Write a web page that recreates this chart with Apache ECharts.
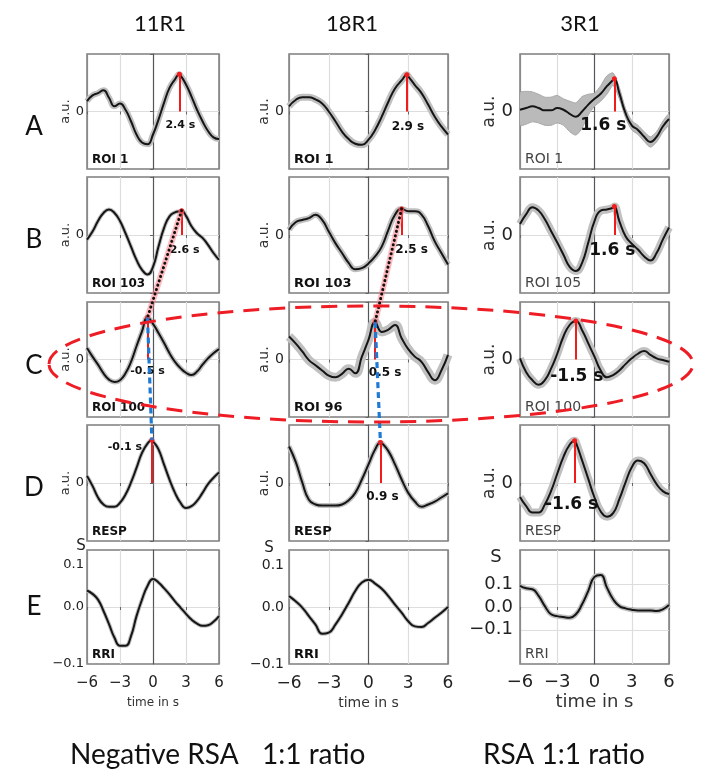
<!DOCTYPE html>
<html><head><meta charset="utf-8">
<script src="https://cdn.jsdelivr.net/npm/echarts@6/dist/echarts.min.js"></script>
<style>html,body{margin:0;padding:0;background:#fff}#c{width:704px;height:773px}</style>
</head><body><div id="c"></div>
<script>
// ---------------- data ----------------
const timeS = [-6,-5.5,-5,-4.5,-4,-3.5,-3,-2.5,-2,-1.5,-1,-0.5,0,0.5,1,1.5,2,2.5,3,3.5,4,4.5,5,5.5,6];
const xTicks = [-6,-3,0,3,6];
const colTitles = ['11R1','18R1','3R1'];
const rowLetters = ['A','B','C','D','E'];
const footers = ['Negative RSA','1:1 ratio','RSA 1:1 ratio'];

// 11R1
const r11_labels = ['ROI 1','ROI 103','ROI 100','RESP','RRI'];
const r11_roi1   = [0.18,0.28,0.32,0.37,0.24,0.09,0.14,0.03,-0.17,-0.40,-0.54,-0.57,-0.40,-0.14,0.15,0.41,0.56,0.63,0.47,0.26,0.03,-0.17,-0.34,-0.45,-0.48];
const r11_roi103 = [-0.08,0.06,0.24,0.38,0.44,0.38,0.24,0.03,-0.20,-0.43,-0.60,-0.68,-0.55,-0.20,0.12,0.32,0.39,0.41,0.33,0.15,0.03,-0.05,-0.17,-0.31,-0.43];
const r11_roi100 = [0.20,0.05,-0.09,-0.24,-0.35,-0.39,-0.36,-0.24,-0.04,0.23,0.49,0.73,0.62,0.46,0.29,0.11,-0.04,-0.15,-0.23,-0.27,-0.21,-0.09,0.02,0.11,0.18];
const r11_resp   = [0.12,-0.05,-0.25,-0.37,-0.41,-0.41,-0.34,-0.20,0.01,0.26,0.52,0.68,0.72,0.58,0.32,0.06,-0.17,-0.34,-0.43,-0.40,-0.31,-0.17,-0.02,0.09,0.18];
const r11_rri    = [0.029,0.023,0.013,-0.007,-0.030,-0.054,-0.068,-0.068,-0.051,-0.016,0.013,0.037,0.049,0.043,0.033,0.022,0.010,-0.001,-0.012,-0.022,-0.029,-0.033,-0.032,-0.026,-0.016];
const r11_peakT  = [2.4, 2.6, -0.5, -0.1, null];
const r11_peakV  = [0.65, 0.42, 0.73, 0.74, null];
const r11_peakL  = ['2.4 s','2.6 s','-0.5 s','-0.1 s', null];

// 18R1
const r18_labels = ['ROI 1','ROI 103','ROI 96','RESP','RRI'];
const r18_roi1   = [0.09,0.20,0.25,0.25,0.21,0.14,0.0,-0.17,-0.35,-0.48,-0.56,-0.58,-0.49,-0.32,-0.09,0.17,0.40,0.54,0.61,0.46,0.32,0.12,-0.09,-0.26,-0.40];
const r18_roi103 = [0.09,0.22,0.26,0.29,0.35,0.26,0.06,-0.14,-0.31,-0.48,-0.59,-0.57,-0.49,-0.37,-0.20,0.09,0.35,0.45,0.41,0.41,0.35,0.15,-0.11,-0.31,-0.51];
const r18_roi96  = [0.40,0.28,0.14,-0.01,-0.10,-0.19,-0.28,-0.31,-0.25,-0.16,-0.24,0.05,0.34,0.65,0.48,0.52,0.60,0.37,0.18,0.05,-0.04,-0.22,-0.36,-0.19,0.08];
const r18_resp   = [0.63,0.37,0.01,-0.29,-0.37,-0.39,-0.39,-0.39,-0.37,-0.30,-0.17,0.06,0.32,0.58,0.69,0.55,0.32,0.06,-0.17,-0.32,-0.41,-0.37,-0.32,-0.25,-0.18];
const r18_rri    = [0.019,0.010,-0.001,-0.016,-0.031,-0.047,-0.045,-0.031,-0.013,0.007,0.028,0.043,0.048,0.041,0.032,0.019,0.004,-0.010,-0.025,-0.034,-0.035,-0.028,-0.019,-0.010,0.0];
const r18_peakT  = [2.9, 2.5, 0.5, 0.9, null];
const r18_peakV  = [0.64, 0.45, 0.65, 0.70, null];
const r18_peakL  = ['2.9 s','2.5 s','0.5 s','0.9 s', null];

// 3R1
const r3_labels  = ['ROI 1','ROI 105','ROI 100','RESP','RRI'];
const r3_roi1    = [0.03,0.06,0.09,0.06,0.02,0.02,0.06,0.03,-0.04,-0.09,0.0,0.12,0.22,0.31,0.44,0.55,0.32,-0.03,-0.24,-0.32,-0.44,-0.53,-0.44,-0.26,-0.13];
const r3_roi1_hi = [0.33,0.35,0.34,0.30,0.25,0.25,0.28,0.22,0.18,0.15,0.26,0.30,0.32,0.45,0.62,0.67,0.42,0.05,-0.16,-0.24,-0.35,-0.44,-0.35,-0.17,-0.04];
const r3_roi1_lo = [-0.24,-0.22,-0.18,-0.20,-0.24,-0.24,-0.20,-0.24,-0.35,-0.41,-0.29,-0.06,0.09,0.18,0.30,0.45,0.22,-0.11,-0.32,-0.40,-0.52,-0.62,-0.53,-0.36,-0.22];
const r3_roi105  = [0.19,0.36,0.48,0.42,0.27,0.07,-0.13,-0.34,-0.55,-0.62,-0.48,-0.13,0.24,0.42,0.44,0.47,0.24,-0.02,-0.15,-0.25,-0.37,-0.44,-0.31,-0.08,0.13];
const r3_roi100  = [0.02,-0.22,-0.36,-0.44,-0.36,-0.16,0.10,0.40,0.60,0.67,0.51,0.28,0.05,-0.19,-0.31,-0.27,-0.19,-0.08,0.02,0.10,0.15,0.08,0.02,-0.01,-0.04];
const r3_resp    = [-0.24,-0.40,-0.51,-0.51,-0.37,-0.14,0.16,0.45,0.66,0.70,0.39,0.07,-0.25,-0.49,-0.58,-0.52,-0.28,0.01,0.27,0.39,0.34,0.16,-0.02,-0.14,-0.19];
const r3_rri     = [0.093,0.082,0.078,0.049,0.004,-0.032,-0.040,-0.044,-0.047,-0.032,0.012,0.071,0.132,0.14,0.085,0.034,0.004,-0.006,-0.012,-0.015,-0.015,-0.015,-0.018,-0.010,0.009];
const r3_peakT   = [1.6, 1.6, -1.5, -1.6, null];
const r3_peakV   = [0.57, 0.49, 0.67, 0.73, null];
const r3_peakL   = ['1.6 s','1.6 s','-1.5 s','-1.6 s', null];

// ---------------- layout / style ----------------
const rowLayout = [{top:54,height:115},{top:177,height:116},{top:302,height:115},{top:425,height:116},{top:550,height:114}];
const colLayout = [
  {left:87, width:132, tickFs:13, xFs:15, nameFs:13, timeFs:12, roiFs:12, roiW:'bold', roiFill:'#111', peakFs:11, nameGap:11, yMargin:3, xMargin:12, timeGap:33, sX:81, sY:546, sFs:15, titleX:160, footX:70},
  {left:289, width:159, tickFs:14, xFs:17, nameFs:14, timeFs:14, roiFs:13, roiW:'bold', roiFill:'#111', peakFs:12, nameGap:15, yMargin:5, xMargin:11, timeGap:32, sX:269, sY:548, sFs:15, titleX:352, footX:262},
  {left:520, width:149, tickFs:18, xFs:18, nameFs:17, timeFs:18, roiFs:14, roiW:'normal', roiFill:'#444', peakFs:17, nameGap:22, yMargin:7, xMargin:9, timeGap:29, sX:496, sY:557, sFs:18, titleX:580, footX:483}
];
const bandW = [[6,4,5,4,4],[7,6,9,5,4],[0,8,8,8,5]];
const peakOff = [
  [[1,14],[3,15],[0,12],[-27,-36]],
  [[1,15],[10,15],[10,13],[2,14]],
  [[-11,14],[-2,16],[1,17],[-3,22]]
];
const FONT = 'DejaVu Sans';
const CAL = 'Lato';

const colData = [
  {vals:[r11_roi1,r11_roi103,r11_roi100,r11_resp,r11_rri], labels:r11_labels, pt:r11_peakT, pv:r11_peakV, pl:r11_peakL},
  {vals:[r18_roi1,r18_roi103,r18_roi96,r18_resp,r18_rri], labels:r18_labels, pt:r18_peakT, pv:r18_peakV, pl:r18_peakL},
  {vals:[r3_roi1,r3_roi105,r3_roi100,r3_resp,r3_rri], labels:r3_labels, pt:r3_peakT, pv:r3_peakV, pl:r3_peakL}
];

function buildData(vals, pt, pv) {
  const arr = timeS.map((t,i)=>[t, vals[i]]);
  if (pt != null) {
    const k = timeS.indexOf(pt);
    if (k >= 0) arr[k] = [pt, pv]; else arr.push([pt, pv]);
    arr.sort((a,b)=>a[0]-b[0]);
  }
  return arr;
}
const minus = s => s.replace('-', '\u2212');

const grids = [], xAxes = [], yAxes = [], series = [], graphics = [];
for (let c = 0; c < 3; c++) {
  const L = colLayout[c], D = colData[c];
  for (let r = 0; r < 5; r++) {
    const g = c*5 + r, R = rowLayout[r];
    const isRRI = (r === 4);
    grids.push({left:L.left, top:R.top, width:L.width, height:R.height, show:true, borderColor:'#7d7d7d', borderWidth:1.5, backgroundColor:'transparent'});
    xAxes.push({
      type:'value', gridIndex:g, min:-6, max:6, interval:3,
      axisLine:{show:false},
      axisTick:{show:true, length:3, lineStyle:{color:'#666'}},
      axisLabel:{show:isRRI, margin:L.xMargin, fontSize:L.xFs, fontFamily:FONT, color:'#222', formatter:v=>minus(String(v))},
      splitLine:{show:true, lineStyle:{color:['#8a8a8a','#dddddd','#505050','#dddddd','#8a8a8a'], width:1.2}},
      name: isRRI ? 'time in s' : '', nameLocation:'middle', nameGap:L.timeGap,
      nameTextStyle:{fontSize:L.timeFs, fontFamily:FONT, color:'#333'}
    });
    let yA;
    if (!isRRI) {
      yA = {type:'value', gridIndex:g, min:-1, max:1, interval:1,
        axisLabel:{margin:L.yMargin, fontSize:L.tickFs, fontFamily:FONT, color:'#222', formatter:v=>v===0?'0':''},
        axisTick:{show:true, length:3, lineStyle:{color:'#666'}},
        splitLine:{show:true, lineStyle:{color:['transparent','#dddddd','transparent'], width:1.2}},
        name:'a.u.', nameLocation:'middle', nameRotate:90, nameGap:L.nameGap,
        nameTextStyle:{fontSize:L.nameFs, fontFamily:FONT, color:'#333'}};
    } else if (c < 2) {
      yA = {type:'value', gridIndex:g, min:-0.1, max:0.1, interval:0.1,
        axisLabel:{margin:L.yMargin, fontSize:L.tickFs, fontFamily:FONT, color:'#222',
          formatter:v=> v > 0.05 ? '{lo|0.1}' : minus(v.toFixed(1)),
          rich:{lo:{fontSize:L.tickFs, fontFamily:FONT, color:'#222', padding:[30,0,0,0]}}},
        axisTick:{show:false},
        splitLine:{show:true, lineStyle:{color:['transparent','#dddddd','transparent'], width:1.2}}};
    } else {
      const sc = ['transparent','transparent','transparent','#dddddd','transparent','#dddddd','transparent','#dddddd','transparent','transparent','transparent'];
      yA = {type:'value', gridIndex:g, min:-0.25, max:0.25, interval:0.05,
        axisLabel:{margin:L.yMargin, fontSize:L.tickFs, fontFamily:FONT, color:'#222', formatter:v=>{
          const q = Math.round(v*100);
          return (q===10||q===0||q===-10) ? minus((q/100).toFixed(1)) : '';
        }},
        axisTick:{show:false},
        splitLine:{show:true, lineStyle:{color:sc, width:1.2}}};
    }
    yAxes.push(yA);

    const pt = D.pt[r], pv = D.pv[r];
    const data = buildData(D.vals[r], pt, pv);
    // band
    if (c === 2 && r === 0) {
      series.push({type:'custom', xAxisIndex:g, yAxisIndex:g, silent:true, z:1, clip:true, data:[[0,0]],
        renderItem:(params, api)=>{
          const up = timeS.map((t,i)=>api.coord([t, r3_roi1_hi[i]]));
          const dn = timeS.map((t,i)=>api.coord([t, r3_roi1_lo[i]])).reverse();
          return {type:'polygon', shape:{points:up.concat(dn), smooth:0.25}, style:{fill:'#bababa', stroke:'#a8a8a8', lineWidth:1}};
        }});
    } else {
      series.push({type:'line', xAxisIndex:g, yAxisIndex:g, data:data, smooth:true, showSymbol:false, silent:true, z:1,
        lineStyle:{color:'#c0c0c0', width:bandW[c][r], cap:'butt', join:'round'}});
    }
    const main = {type:'line', xAxisIndex:g, yAxisIndex:g, data:data, smooth:true, showSymbol:false, silent:true, z:3,
      lineStyle:{color:'#151515', width:2}};
    if (pt != null) {
      const off = peakOff[c][r];
      main.markLine = {silent:true, symbol:['circle','none'], symbolSize:5, animation:false,
        lineStyle:{color:'#f21b1b', width:2, type:'solid'}, label:{show:false},
        data:[[{coord:[pt,pv]},{coord:[pt,0]}]]};
      main.markPoint = {silent:true, symbol:'circle', symbolSize:1, itemStyle:{color:'transparent'}, animation:false,
        data:[{coord:[pt,0], label:{show:true, position:'inside', offset:off, formatter:D.pl[r],
          fontSize:L.peakFs, fontWeight:'bold', fontFamily:FONT, color:'#111'}}]};
    }
    series.push(main);
    // panel label
    graphics.push({type:'text', x:L.left+5, y:R.top+R.height-3, z:50,
      style:{text:D.labels[r], fontSize:L.roiFs, fontWeight:L.roiW, fontFamily:FONT, fill:L.roiFill, align:'left', verticalAlign:'bottom'}});
  }
  // S unit label
  graphics.push({type:'text', x:L.sX, y:L.sY, z:50, style:{text:'S', fontSize:L.sFs, fontFamily:FONT, fill:'#222', align:'center', verticalAlign:'middle'}});
  // column title
  graphics.push({type:'text', x:L.titleX, y:24, z:50, style:{text:colTitles[c], fontSize:22, fontFamily:CAL, fill:'#111', align:'center', verticalAlign:'middle'}});
  // footer
  graphics.push({type:'text', x:L.footX, y:755, z:50, style:{text:footers[c], fontSize:28, fontFamily:CAL, fill:'#111', align:'left', verticalAlign:'middle'}});
}
const rowY = [127,240,366,488,607];
rowLetters.forEach((t,i)=>graphics.push({type:'text', x:34, y:rowY[i], z:50, style:{text:t, fontSize:26, fontFamily:CAL, fill:'#111', align:'center', verticalAlign:'middle'}}));

const chart = echarts.init(document.getElementById('c'), null, {renderer:'canvas', width:704, height:773});
chart.setOption({animation:false, grid:grids, xAxis:xAxes, yAxis:yAxes, series:series});

// connectors between panels (computed through the axes)
function px(g, t, v) { return chart.convertToPixel({gridIndex:g}, [t, v]); }
function peakPx(c, r) { const D = colData[c]; return px(c*5+r, D.pt[r], D.pv[r]); }
[0,1].forEach(c=>{
  const b = peakPx(c,1), cc = peakPx(c,2), d = peakPx(c,3);
  graphics.push({type:'line', z:60, shape:{x1:b[0],y1:b[1],x2:cc[0],y2:cc[1]}, style:{stroke:'rgba(255,120,130,0.5)', lineWidth:6}});
  graphics.push({type:'line', z:61, shape:{x1:b[0],y1:b[1],x2:cc[0],y2:cc[1]}, style:{stroke:'#111', lineWidth:3, lineDash:[0.1,4.5], lineCap:'round'}});
  graphics.push({type:'line', z:61, shape:{x1:cc[0],y1:cc[1],x2:d[0],y2:d[1]}, style:{stroke:'#1f7ad6', lineWidth:3.2, lineDash:[6,4]}});
});
// red dashed ellipse around row C
graphics.push({type:'ellipse', z:70, shape:{cx:371, cy:364, rx:322, ry:58}, style:{fill:'none', stroke:'#ee1c24', lineWidth:3, lineDash:[16,10]}});
chart.setOption({graphic:graphics});
</script></body></html>
